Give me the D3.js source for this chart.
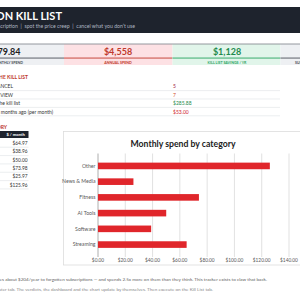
<!DOCTYPE html>
<html>
<head>
<meta charset="utf-8">
<script src="https://cdn.jsdelivr.net/npm/d3@7"></script>
<style>
  html, body { margin: 0; padding: 0; background: #fff; overflow: hidden; }
  svg { display: block; font-family: Lato, "Open Sans", sans-serif; }
</style>
</head>
<body>
<svg width="300" height="300"></svg>
<script>
// spend by category (register order)
let categories = ['Streaming', 'Software', 'AI Tools', 'Fitness', 'News & Media', 'Other']
let monthly = [64.97, 38.96, 50.00, 73.98, 25.97, 125.96]
let xTicks = [0, 20, 40, 60, 80, 100, 120, 140]

let kpiLabels = ['MONTHLY SPEND', 'ANNUAL SPEND', 'KILL LIST SAVINGS / YR', 'SUBSCRIPTIONS']
let kpiValues = ['$379.84', '$4,558', '$1,128', '']

let killLabels = ['Subscriptions to CANCEL', 'Subscriptions to REVIEW', 'Annual savings if you execute the kill list', 'Price creep since 12 months ago (per month)']
let killValues = ['5', '7', '$285.88', '$53.00']

let svg = d3.select('svg')
let money = d3.format('$,.2f')

// header band
svg.append('rect').attr('x', 0).attr('y', 7).attr('width', 300).attr('height', 26).attr('fill', '#1e232d')
svg.append('text').attr('x', 62).attr('y', 20).attr('text-anchor', 'end')
    .attr('font-size', 11).attr('font-weight', 700).attr('fill', '#fff')
    .text('SUBSCRIPTION KILL LIST')
svg.append('text').attr('x', 135).attr('y', 28).attr('text-anchor', 'end')
    .attr('font-size', 5.2).attr('fill', '#aeb6c2').style('white-space', 'pre')
    .text('Find every subscription  |  spot the price creep  |  cancel what you don\u2019t use')

// KPI cards
let cards = [
    {x: -44, w: 108, fill: '#eef0f3', line: '#4a4f58', color: '#222', cx: 6},
    {x: 64, w: 108.5, fill: '#fde1e4', line: '#c0392b', color: '#c0392b', cx: 118},
    {x: 172.5, w: 108, fill: '#e1f5ea', line: '#27a35f', color: '#1e8a4c', cx: 227},
    {x: 280.5, w: 108, fill: '#eef0f3', line: '#4a4f58', color: '#222', cx: 334}
]
let card = svg.selectAll('.card').data(cards).enter().append('g').attr('class', 'card')
card.append('rect').attr('x', d => d.x).attr('y', 44).attr('width', d => d.w).attr('height', 21).attr('fill', d => d.fill)
card.append('rect').attr('x', d => d.x).attr('y', 57.6).attr('width', d => d.w).attr('height', 0.9).attr('fill', d => d.line)
card.append('text')
    .attr('x', (d, i) => i == 0 ? 20.5 : d.cx).attr('y', 55)
    .attr('text-anchor', (d, i) => i == 0 ? 'end' : 'middle')
    .attr('font-size', 9).attr('font-weight', 700).attr('fill', d => d.color)
    .text((d, i) => kpiValues[i])
card.append('text')
    .attr('x', (d, i) => i == 0 ? 23 : i == 3 ? 295 : d.cx).attr('y', 63.5)
    .attr('text-anchor', (d, i) => i == 0 ? 'end' : i == 3 ? 'start' : 'middle')
    .attr('font-size', 3.6).attr('font-weight', 700).attr('fill', d => d.line)
    .text((d, i) => kpiLabels[i])
svg.append('rect').attr('x', 0).attr('y', 43.6).attr('width', 300).attr('height', 0.8).attr('fill', '#7a7f88')

// kill list section
svg.append('text').attr('x', 28).attr('y', 79).attr('text-anchor', 'end')
    .attr('font-size', 5).attr('font-weight', 700).attr('fill', '#c0392b')
    .text('VERDICTS \u2014 THE KILL LIST')
let killColors = ['#a0183a', '#d24a1c', '#1e8a4c', '#d0242b']
killLabels.forEach((t, i) => {
    let yy = 88.3 + i * 8.4
    svg.append('text').attr('x', [13, 13, 20, 53][i]).attr('y', yy).attr('text-anchor', 'end')
        .attr('font-size', 5).attr('fill', '#333').text(t)
    svg.append('text').attr('x', 173).attr('y', yy).attr('font-size', 5)
        .attr('fill', killColors[i]).text(killValues[i])
    svg.append('line').attr('x1', 0).attr('x2', 280).attr('y1', yy + 2.3).attr('y2', yy + 2.3)
        .attr('stroke', '#e4e6ea').attr('stroke-width', 0.7)
})

// category table
svg.append('text').attr('x', 7).attr('y', 129).attr('text-anchor', 'end')
    .attr('font-size', 5).attr('font-weight', 700).attr('fill', '#c0392b')
    .text('SPEND BY CATEGORY')
svg.append('rect').attr('x', 0).attr('y', 131).attr('width', 28.5).attr('height', 7).attr('fill', '#1e232d')
svg.append('text').attr('x', 25).attr('y', 136).attr('text-anchor', 'end')
    .attr('font-size', 4.2).attr('font-weight', 700).attr('fill', '#fff').text('$ / month')
monthly.forEach((v, i) => {
    let yy = 145 + i * 8.35
    svg.append('text').attr('x', 27.5).attr('y', yy).attr('text-anchor', 'end')
        .attr('font-size', 4.8).attr('fill', '#333').text(money(v))
    svg.append('line').attr('x1', 0).attr('x2', 28.5).attr('y1', yy + 2.2).attr('y2', yy + 2.2)
        .attr('stroke', '#e4e6ea').attr('stroke-width', 0.7)
})

// chart box
svg.append('rect').attr('x', 63.5).attr('y', 131.5).attr('width', 250).attr('height', 133.5)
    .attr('fill', '#fff').attr('stroke', '#dcdcdc').attr('stroke-width', 0.8)
svg.append('text').attr('x', 183).attr('y', 147).attr('text-anchor', 'middle')
    .attr('font-size', 8.7).attr('font-weight', 700).attr('fill', '#222')
    .text('Monthly spend by category')

let x = d3.scaleLinear().domain([0, 140]).range([98, 289])
let y = d3.scaleBand().domain(categories.slice().reverse()).range([153.5, 257]).padding(0.58)

svg.append('g').selectAll('line').data(xTicks).enter().append('line')
    .attr('x1', d => x(d)).attr('x2', d => x(d)).attr('y1', 153.5).attr('y2', 257)
    .attr('stroke', d => d == 0 ? '#9a9a9a' : '#d9d9d9').attr('stroke-width', 0.8)

svg.append('g').selectAll('text').data(xTicks).enter().append('text')
    .attr('x', d => x(d)).attr('y', 262).attr('text-anchor', 'middle')
    .attr('font-size', 4.8).attr('fill', '#595959').text(d => money(d))

svg.append('g').selectAll('text').data(categories).enter().append('text')
    .attr('x', 95.5).attr('y', d => y(d) + y.bandwidth() / 2 + 1.8).attr('text-anchor', 'end')
    .attr('font-size', 5.2).attr('fill', '#595959').text(d => d)

svg.append('g').selectAll('rect').data(categories).enter().append('rect')
    .attr('x', x(0)).attr('y', d => y(d))
    .attr('width', (d, i) => x(monthly[i]) - x(0)).attr('height', y.bandwidth())
    .attr('fill', '#e0262b')

// footer notes
svg.append('text').attr('x', 267).attr('y', 281).attr('text-anchor', 'end')
    .attr('font-size', 4.6).attr('fill', '#666')
    .text('The average person wastes about $204/year to forgotten subscriptions \u2014 and spends 2.5x more on them than they think. This tracker exists to claw that back.')
svg.append('text').attr('x', 213).attr('y', 291).attr('text-anchor', 'end')
    .attr('font-size', 4.6).attr('fill', '#8a8a8a')
    .text('How to use: list every subscription on the Register tab. The verdicts, the dashboard and the chart update by themselves. Then execute on the Kill List tab.')
</script>
</body>
</html>
